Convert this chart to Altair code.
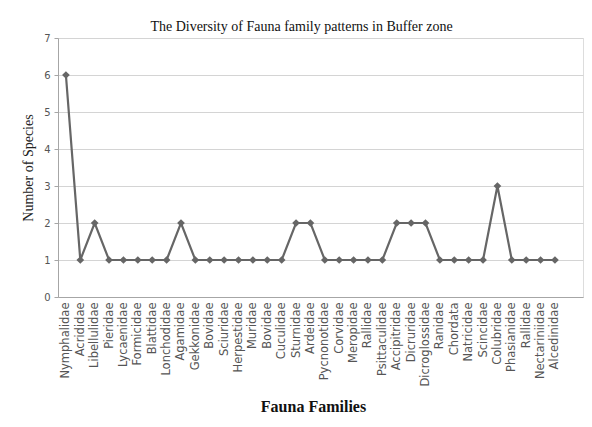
import altair as alt
import pandas as pd

families = [
    "Nymphalidae", "Acrididae", "Libellulidae", "Pieridae", "Lycaenidae",
    "Formicidae", "Blattidae", "Lonchodidae", "Agamidae", "Gekkonidae",
    "Bovidae", "Sciuridae", "Herpestidae", "Muridae", "Bovidae",
    "Cuculidae", "Sturnidae", "Ardeidae", "Pycnonotidae", "Corvidae",
    "Meropidae", "Rallidae", "Psittaculidae", "Accipitridae", "Dicruridae",
    "Dicroglossidae", "Ranidae", "Chordata", "Natricidae", "Scincidae",
    "Colubridae", "Phasianidae", "Rallidae", "Nectariniidae", "Alcedinidae",
]
species = [6, 1, 2, 1, 1, 1, 1, 1, 2, 1, 1, 1, 1, 1, 1, 1, 2, 2, 1, 1,
           1, 1, 1, 2, 2, 2, 1, 1, 1, 1, 3, 1, 1, 1, 1]
y_ticks = [0, 1, 2, 3, 4, 5, 6, 7]

df = pd.DataFrame({"idx": list(range(len(families))), "family": families, "species": species})

label_array = "[" + ",".join("'" + f + "'" for f in families) + "]"

x_enc = alt.X(
    "idx:Q",
    scale=alt.Scale(domain=[-0.55, 35.95], nice=False, zero=False),
    axis=alt.Axis(
        title="Fauna Families",
        values=list(range(len(families))),
        labelExpr=label_array + "[datum.value]",
        labelAngle=-90,
        labelAlign="right",
        labelBaseline="middle",
        labelFont="DejaVu Sans",
        labelFontSize=11.5,
        labelColor="#555555",
        labelPadding=5,
        labelOverlap=False,
        labelFlush=False,
        ticks=False,
        grid=False,
        domainColor="#a6a6a6",
        titleFont="Liberation Serif",
        titleFontSize=16,
        titleFontWeight="bold",
        titleColor="#111111",
        titleX=255,
        titleY=114,
        titleBaseline="alphabetic",
        titleAlign="center",
    ),
)
y_enc = alt.Y(
    "species:Q",
    scale=alt.Scale(domain=[0, 7], nice=False),
    axis=alt.Axis(
        title="Number of Species",
        values=y_ticks,
        labelOverlap=False,
        labelFont="DejaVu Sans",
        labelFontSize=10,
        labelColor="#555555",
        labelPadding=4,
        tickSize=4,
        tickColor="#a6a6a6",
        gridColor="#d4d4d4",
        domainColor="#a6a6a6",
        titleFont="Liberation Serif",
        titleFontSize=14,
        titleFontWeight="normal",
        titleColor="#222222",
        titlePadding=8,
    ),
)

base = alt.Chart(df).encode(x=x_enc, y=y_enc)
line = base.mark_line(color="#666666", strokeWidth=2.2)
pts = base.mark_point(shape="diamond", filled=True, size=60, color="#666666", opacity=1)

chart = (
    alt.layer(line, pts)
    .properties(
        width=525,
        height=259,
        autosize=alt.AutoSizeParams(type="none"),
        padding={"left": 50, "top": 30, "right": 1, "bottom": 122},
        title=alt.TitleParams(
            "The Diversity of Fauna family patterns in Buffer zone",
            font="Liberation Serif",
            fontSize=14,
            fontWeight="normal",
            color="#111111",
            anchor="middle",
            offset=-1,
            dx=-19,
        ),
    )
    .configure_view(stroke=None)
    .configure(background="white")
)

chart.save("out.html", embed_options={"renderer": "svg", "actions": False})
